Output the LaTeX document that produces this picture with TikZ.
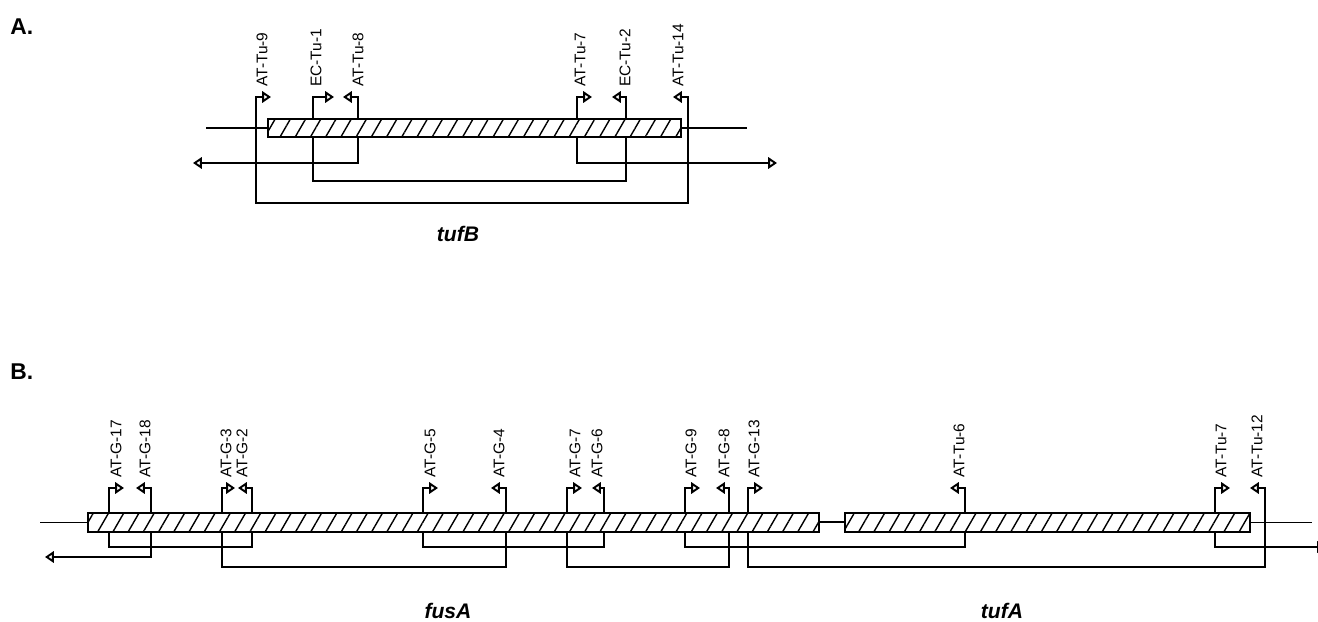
\documentclass[tikz,border=0pt]{standalone}
\usepackage{fontspec}
\setmainfont{Liberation Sans}
\setsansfont{Liberation Sans}
\usetikzlibrary{arrows.meta,patterns.meta}

\tikzset{
  gene/.style={draw,line width=1.1pt,preaction={fill=white},
    pattern={Lines[angle=60,distance=7.5pt,line width=0.8pt]}},
  primer/.style={line width=1.1pt,-{Triangle[open,length=5pt,width=6.5pt]}},
  endarrow/.style={line width=1.1pt,-{Triangle[open,length=5pt,width=6.5pt]}},
  link/.style={line width=1.1pt},
  flank/.style={line width=1.1pt},
  thinflank/.style={line width=0.5pt},
  plabel/.style={rotate=90,anchor=west,inner sep=0pt,font=\fontsize{8.8}{10}\selectfont},
  panel/.style={anchor=base west,inner sep=0pt,font=\fontsize{13}{15}\selectfont\bfseries},
  genename/.style={anchor=base,inner sep=0pt,font=\fontsize{12}{14}\selectfont\bfseries\itshape}
}

\begin{document}
\begin{tikzpicture}[x=0.2mm,y=-0.2mm]
  \useasboundingbox (0,0) rectangle (1318,622);
  \clip (0,0) rectangle (1318,622);

  % panel A: tufB
  \node[panel] (pa) at (10,35) {A.};
  \draw[flank] (206,128) -- (747,128);
  \foreach \n/\x/\l/\lx/\t in {a9/256/15/262/AT-Tu-9, e1/313/21/316/EC-Tu-1,
      a8/358/-15/358/AT-Tu-8, a7/577/15/580/AT-Tu-7, e2/626/-14/625/EC-Tu-2,
      a14/688/-15/678/AT-Tu-14}{
    \coordinate (\n) at (\x,128);
    \draw[primer] (\n) -- (\x,97) -- ++(\l,0);
    \node[plabel] (l\n) at (\lx,87) {\t};
  }
  \coordinate (aL) at (193,163);
  \coordinate (aR) at (777,163);
  \draw[link] (a9) -- ++(0,75) -| (a14);
  \draw[link] (e1) -- ++(0,53) -| (e2);
  \draw[endarrow] (a8) |- (aL);
  \draw[endarrow] (a7) |- (aR);
  \draw[gene] (268,119) rectangle (681,137);
  \node[genename] (tufb) at (458,242) {tufB};

  % panel B: fusA and tufA
  \node[panel] (pb) at (10,380) {B.};
  \draw[thinflank] (40,522) -- (88,522);
  \draw[thinflank] (1250,522) -- (1312,522);
  \draw[flank] (819,522) -- (845,522);
  \foreach \n/\x/\l/\lx/\t in {g17/109/15/116/AT-G-17, g18/151/-15/145/AT-G-18,
      g3/222/13/226/AT-G-3, g2/252/-14/242/AT-G-2, g5/423/15/430/AT-G-5,
      g4/506/-15/499/AT-G-4, g7/567/15/575/AT-G-7, g6/604/-12/597/AT-G-6,
      g9/685/15/691/AT-G-9, g8/729/-13/724/AT-G-8, g13/748/15/754/AT-G-13,
      t6/965/-15/959/AT-Tu-6, t7/1215/15/1221/AT-Tu-7, t12/1265/-15/1257/AT-Tu-12}{
    \coordinate (\n) at (\x,522);
    \draw[primer] (\n) -- (\x,488) -- ++(\l,0);
    \node[plabel] (l\n) at (\lx,478) {\t};
  }
  \coordinate (bL) at (45,557);
  \coordinate (bR) at (1326,547);
  \draw[link] (g17) -- ++(0,25) -| (g2);
  \draw[link] (g3) -- ++(0,45) -| (g4);
  \draw[link] (g5) -- ++(0,25) -| (g6);
  \draw[link] (g7) -- ++(0,45) -| (g8);
  \draw[link] (g9) -- ++(0,25) -| (t6);
  \draw[link] (g13) -- ++(0,45) -| (t12);
  \draw[endarrow] (g18) |- (bL);
  \draw[endarrow] (t7) |- (bR);
  \draw[gene] (88,513) rectangle (819,532);
  \draw[gene] (845,513) rectangle (1250,532);
  \node[genename] (fusa) at (448,618) {fusA};
  \node[genename] (tufa) at (1002,618) {tufA};
\end{tikzpicture}
\end{document}
